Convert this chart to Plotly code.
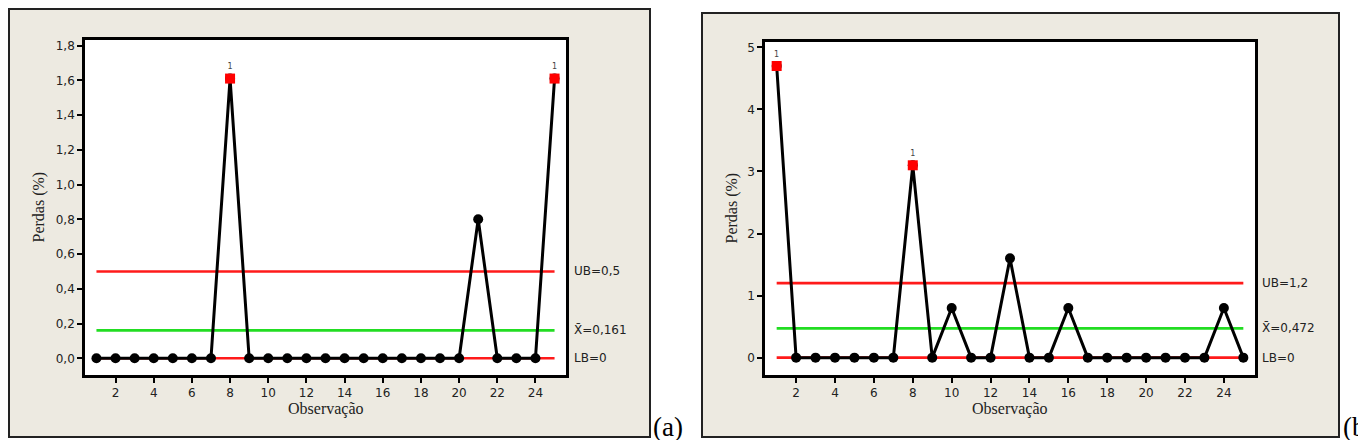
import plotly.graph_objects as go

# ---------------- data ----------------
obs = list(range(1, 26))
perdas_a = [0, 0, 0, 0, 0, 0, 0, 1.61, 0, 0, 0, 0, 0, 0, 0, 0, 0, 0, 0, 0, 0.8, 0, 0, 0, 1.61]
perdas_b = [4.7, 0, 0, 0, 0, 0, 0, 3.1, 0, 0.8, 0, 0, 1.6, 0, 0, 0.8, 0, 0, 0, 0, 0, 0, 0, 0.8, 0]
flagged_a = [8, 25]      # observations flagged by test 1 (red squares)
flagged_b = [1, 8]
ub_a, mean_a, lb_a = 0.5, 0.161, 0
ub_b, mean_b, lb_b = 1.2, 0.472, 0
x_ticks = [2, 4, 6, 8, 10, 12, 14, 16, 18, 20, 22, 24]
y_ticks_a = [0.0, 0.2, 0.4, 0.6, 0.8, 1.0, 1.2, 1.4, 1.6, 1.8]
y_ticks_b = [0, 1, 2, 3, 4, 5]
panel_labels = ["(a)", "(b)"]
x_title = "Observação"
y_title = "Perdas (%)"

W, H = 1358, 440

def px_x(p):
    return p / W

def px_y(p):
    return 1 - p / H

SANS = "DejaVu Sans"
SERIF = "Liberation Serif"
BEIGE = "#EDEAE1"

def fmt(v, nd):
    s = f"{v:.{nd}f}" if nd > 0 else f"{v:g}"
    return s.replace(".", ",")

fig = go.Figure()

panels = [
    dict(y=perdas_a, flag=flagged_a, ub=ub_a, mean=mean_a, lb=lb_a, yt=y_ticks_a, yfmt=".1f",
         xa="x", ya="y", yrange=[-0.096, 1.832],
         xdom=[px_x(85), px_x(566)], ydom=[px_y(375), px_y(40)],
         frame=(9, 9, 650, 437), ytitle_x=38, label=panel_labels[0], label_x=651),
    dict(y=perdas_b, flag=flagged_b, ub=ub_b, mean=mean_b, lb=lb_b, yt=y_ticks_b, yfmt="d",
         xa="x2", ya="y2", yrange=[-0.28, 5.087],
         xdom=[px_x(765), px_x(1255)], ydom=[px_y(375), px_y(42)],
         frame=(702, 13, 1339, 437), ytitle_x=731, label=panel_labels[1], label_x=1341),
]

shapes = []
annotations = []

for i, p in enumerate(panels):
    xa, ya = p["xa"], p["ya"]
    xs = [obs[0], obs[-1]]
    # limit lines
    for val, col in [(p["ub"], "#FF1A1A"), (p["mean"], "#22DD22"), (p["lb"], "#FF1A1A")]:
        fig.add_trace(go.Scatter(x=xs, y=[val, val], mode="lines",
                                 line=dict(color=col, width=2.6),
                                 xaxis=xa, yaxis=ya, showlegend=False, hoverinfo="skip"))
    # data line
    fig.add_trace(go.Scatter(x=obs, y=p["y"], mode="lines+markers",
                             line=dict(color="black", width=3),
                             marker=dict(color="black", size=10, symbol="circle"),
                             xaxis=xa, yaxis=ya, showlegend=False))
    # flagged points
    ox = [o for o in obs if o in p["flag"]]
    oy = [v for o, v in zip(obs, p["y"]) if o in p["flag"]]
    fig.add_trace(go.Scatter(x=ox, y=oy, mode="markers+text",
                             marker=dict(color="#FF0000", size=10, symbol="square"),
                             text=["1"] * len(ox), textposition="top center",
                             textfont=dict(family=SANS, size=8, color="#444"),
                             xaxis=xa, yaxis=ya, showlegend=False))
    # labels for limit lines
    for val, txt in [(p["ub"], f"UB={fmt(p['ub'], 1)}"),
                     (p["mean"], f"X\u0304={fmt(p['mean'], 3)}"),
                     (p["lb"], f"LB={fmt(p['lb'], 0)}")]:
        annotations.append(dict(x=obs[-1], y=val, xref=xa, yref=ya, text=txt,
                                showarrow=False, xanchor="left", yanchor="middle",
                                xshift=17, font=dict(family=SANS, size=12, color="#222")))
    # frames
    fx0, fy0, fx1, fy1 = p["frame"]
    shapes.append(dict(type="rect", xref="paper", yref="paper",
                       x0=px_x(fx0), x1=px_x(fx1), y0=px_y(fy1), y1=px_y(fy0),
                       fillcolor=BEIGE, line=dict(color="#222", width=2), layer="below"))
    shapes.append(dict(type="rect", xref="paper", yref="paper",
                       x0=p["xdom"][0], x1=p["xdom"][1], y0=p["ydom"][0], y1=p["ydom"][1],
                       fillcolor="white", line=dict(width=0), layer="below"))
    # axis titles
    annotations.append(dict(x=(p["xdom"][0] + p["xdom"][1]) / 2, y=px_y(399), xref="paper", yref="paper",
                            text=x_title, showarrow=False, xanchor="center", yanchor="top",
                            borderpad=0,
                            font=dict(family=SERIF, size=16, color="#222")))
    annotations.append(dict(x=px_x(p["ytitle_x"]), y=(p["ydom"][0] + p["ydom"][1]) / 2,
                            xref="paper", yref="paper", text=y_title, textangle=-90,
                            showarrow=False, xanchor="center", yanchor="middle",
                            font=dict(family=SERIF, size=16, color="#222")))
    # panel label
    annotations.append(dict(x=px_x(p["label_x"]), y=px_y(410), xref="paper", yref="paper",
                            text=p["label"], showarrow=False, xanchor="left", yanchor="top",
                            font=dict(family=SERIF, size=27, color="black")))

axis_common = dict(showgrid=False, zeroline=False, showline=True, linecolor="black",
                   linewidth=2.6, mirror=True, ticks="outside", tickcolor="black",
                   tickwidth=2, ticklen=5, tickfont=dict(family=SANS, size=12, color="#222"))

layout = dict(width=W, height=H, margin=dict(l=0, r=0, t=0, b=0),
              paper_bgcolor="white", plot_bgcolor="white", separators=",.",
              showlegend=False, shapes=shapes, annotations=annotations)

for i, p in enumerate(panels):
    sfx = "" if i == 0 else str(i + 1)
    layout["xaxis" + sfx] = dict(axis_common, domain=p["xdom"], range=[0.4, 25.6],
                                 tickvals=x_ticks, anchor=p["ya"])
    layout["yaxis" + sfx] = dict(axis_common, domain=p["ydom"], range=p["yrange"],
                                 tickvals=p["yt"], tickformat=p["yfmt"], anchor=p["xa"])

fig.update_layout(**layout)
fig.write_html("out.html", config={"displayModeBar": False},
               post_script="document.body.style.margin='0';document.body.style.overflow='hidden';")
